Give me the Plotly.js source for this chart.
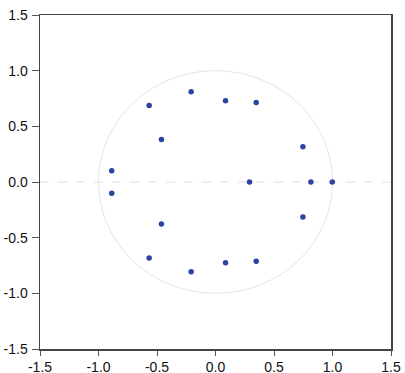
<!DOCTYPE html>
<html>
<head>
<meta charset="utf-8">
<script src="https://cdn.plot.ly/plotly-3.0.1.min.js"></script>
<style>
html,body{margin:0;padding:0;background:#fff;}
#chart{width:405px;height:373px;}
</style>
</head>
<body>
<div id="chart"></div>
<script>
// Inverse roots: real and imaginary parts
var rootsReal = [-0.208, 0.086, 0.348, -0.567, -0.462, 0.747, -0.887, 0.291, 0.815, 0.998, -0.887, 0.747, -0.462, -0.567, -0.208, 0.086, 0.348];
var rootsImag = [0.810, 0.729, 0.714, 0.687, 0.381, 0.316, 0.100, 0.000, 0.000, 0.000, -0.100, -0.314, -0.378, -0.683, -0.806, -0.726, -0.711];
var tickVals = [-1.5, -1.0, -0.5, 0.0, 0.5, 1.0, 1.5];
var tickText = ["-1.5", "-1.0", "-0.5", "0.0", "0.5", "1.0", "1.5"];
var unitRadius = 1;

var trace = {
  x: rootsReal,
  y: rootsImag,
  mode: 'markers',
  type: 'scatter',
  marker: {size: 5.5, color: '#2a44a0'},
  hoverinfo: 'none'
};

var axisCommon = {
  range: [-1.5, 1.5],
  tickvals: tickVals,
  ticktext: tickText,
  ticks: 'outside',
  tickwidth: 1,
  tickcolor: '#555',
  showgrid: false,
  zeroline: false,
  showline: true,
  linecolor: '#444',
  linewidth: 1.5,
  mirror: true,
  tickfont: {family: 'Liberation Sans, Arial, sans-serif', size: 14, color: '#111'}
};

var layout = {
  width: 405,
  height: 373,
  margin: {l: 40, r: 14, t: 15, b: 24},
  paper_bgcolor: '#fff',
  plot_bgcolor: '#fff',
  showlegend: false,
  xaxis: Object.assign({}, axisCommon, {ticklen: 5, ticklabelstandoff: 0}),
  yaxis: Object.assign({}, axisCommon, {ticklen: 7, ticklabelstandoff: 1}),
  shapes: [
    {type: 'circle', xref: 'x', yref: 'y', x0: -unitRadius, x1: unitRadius, y0: -unitRadius, y1: unitRadius,
     line: {color: '#e4e4e4', width: 1}, layer: 'below'},
    {type: 'line', xref: 'paper', yref: 'y', x0: 0, x1: 1, y0: 0, y1: 0,
     line: {color: '#e0e0e0', width: 1, dash: 'dash'}, layer: 'below'}
  ]
};

Plotly.newPlot('chart', [trace], layout, {displayModeBar: false, staticPlot: true});
</script>
</body>
</html>
